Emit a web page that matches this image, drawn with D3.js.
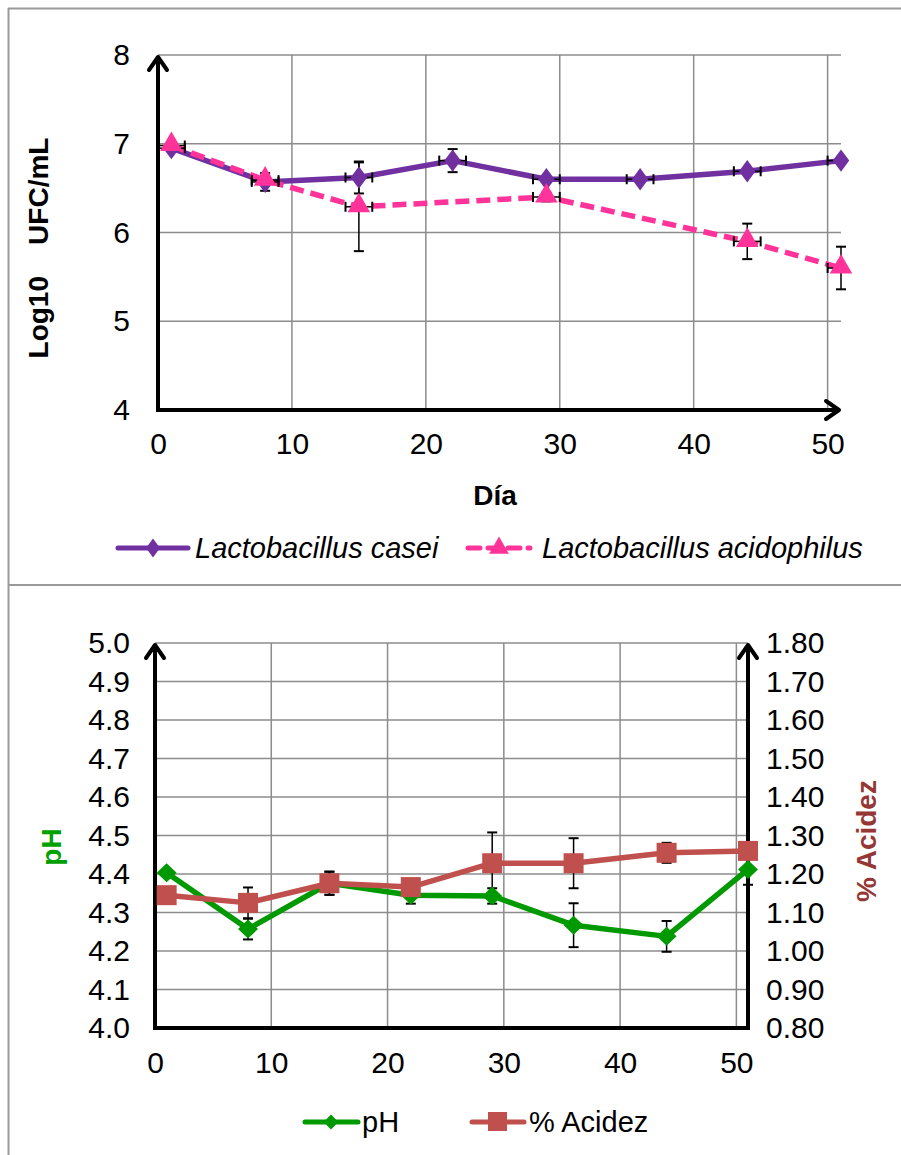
<!DOCTYPE html>
<html><head><meta charset="utf-8">
<script src="https://cdn.jsdelivr.net/npm/d3@7"></script>
<style>
html,body{margin:0;padding:0;background:#fff;}
svg{display:block;font-family:"Liberation Sans",Arial,sans-serif;}
</style></head>
<body>
<svg id="c" width="901" height="1155"></svg>
<script>
// ---------- data ----------
const daysCasei = [1, 8, 15, 22, 29, 36, 44, 51];
const casei = [6.95, 6.57, 6.62, 6.81, 6.60, 6.60, 6.69, 6.81];
const caseiErr = [0.03, 0.10, 0.18, 0.13, 0.03, 0.02, 0.03, 0.02];
const daysAcido = [1, 8, 15, 29, 44, 51];
const acido = [6.98, 6.59, 6.29, 6.40, 5.90, 5.60];
const acidoErr = [0.03, 0.05, 0.50, 0.05, 0.20, 0.24];
const dayErr = 1;
const topYTicks = [4, 5, 6, 7, 8];
const xTicks = [0, 10, 20, 30, 40, 50];

const daysPH = [1, 8, 15, 22, 29, 36, 44, 51];
const pH = [4.403, 4.257, 4.376, 4.345, 4.343, 4.267, 4.238, 4.412];
const pHErr = [0.00, 0.027, 0.03, 0.022, 0.02, 0.057, 0.04, 0.04];
const acidez = [1.145, 1.125, 1.176, 1.166, 1.228, 1.228, 1.255, 1.26];
const acidezErr = [0.00, 0.04, 0.03, 0.00, 0.08, 0.065, 0.026, 0.00];
const pHTicks = d3.range(0, 11).map(i => +(4 + i * 0.1).toFixed(1));
const acTicks = d3.range(0, 11).map(i => +(0.8 + i * 0.1).toFixed(2));

const svg = d3.select("#c");
const grid = "#8c8c8c";
const FS = 30;

// outer frame
svg.append("line").attr("x1", 8).attr("x2", 901).attr("y1", 8.5).attr("y2", 8.5).attr("stroke", "#999").attr("stroke-width", 2);
svg.append("line").attr("x1", 8.5).attr("x2", 8.5).attr("y1", 8).attr("y2", 1155).attr("stroke", "#999").attr("stroke-width", 2);
svg.append("line").attr("x1", 8).attr("x2", 901).attr("y1", 585).attr("y2", 585).attr("stroke", "#999").attr("stroke-width", 2);

function arrowUp(g, x, y) {
  g.append("path").attr("d", `M${x-9},${y+13} L${x},${y} L${x+9},${y+13}`)
    .attr("fill", "none").attr("stroke", "#000").attr("stroke-width", 4).attr("stroke-linecap", "round").attr("stroke-linejoin", "round");
}
function arrowRight(g, x, y) {
  g.append("path").attr("d", `M${x-13},${y-9} L${x},${y} L${x-13},${y+9}`)
    .attr("fill", "none").attr("stroke", "#000").attr("stroke-width", 4).attr("stroke-linecap", "round").attr("stroke-linejoin", "round");
}
function styleTicks(sel) {
  sel.select(".domain").remove();
  sel.attr("font-size", null).attr("font-family", null);
  sel.selectAll("text").style("font-size", FS + "px").attr("fill", "#000").style("font-family", "'Liberation Sans', Arial, sans-serif");
}
const diamond = d3.symbol().type(d3.symbolDiamond2);
const tri = d3.symbol().type(d3.symbolTriangle);

// ---------- TOP CHART ----------
{
  const x = d3.scaleLinear().domain([0, 51]).range([158, 841]);
  const y = d3.scaleLinear().domain([4, 8]).range([410, 55]);
  const g = svg.append("g");
  g.selectAll(".hg").data(topYTicks.filter(d => d > 4)).join("line")
    .attr("x1", x(0)).attr("x2", x(51)).attr("y1", d => y(d)).attr("y2", d => y(d))
    .attr("stroke", grid).attr("stroke-width", 1.5);
  g.selectAll(".vg").data(xTicks.filter(d => d > 0)).join("line")
    .attr("x1", d => x(d)).attr("x2", d => x(d)).attr("y1", y(8)).attr("y2", y(4))
    .attr("stroke", grid).attr("stroke-width", 1.5);
  const ax = d3.axisBottom(x).tickValues(xTicks).tickFormat(d3.format("d")).tickSize(0).tickPadding(23);
  styleTicks(g.append("g").attr("transform", `translate(0,${y(4)})`).call(ax));
  const ay = d3.axisLeft(y).tickValues(topYTicks).tickFormat(d3.format("d")).tickSize(0).tickPadding(28);
  styleTicks(g.append("g").attr("transform", `translate(${x(0)},0)`).call(ay));
  g.append("line").attr("x1", x(0)).attr("x2", x(0)).attr("y1", y(4) + 2).attr("y2", y(8) + 2).attr("stroke", "#000").attr("stroke-width", 4);
  g.append("line").attr("x1", x(0) - 2).attr("x2", x(51) - 2).attr("y1", y(4)).attr("y2", y(4)).attr("stroke", "#000").attr("stroke-width", 4);
  arrowUp(g, x(0), y(8) + 2);
  arrowRight(g, x(51) - 2, y(4));
  g.append("text").attr("transform", `translate(48,248) rotate(-90)`).attr("text-anchor", "middle")
    .style("font-size", "28px").attr("font-weight", "bold").style("white-space", "pre")
    .text("Log10    UFC/mL");
  g.append("text").attr("x", 495).attr("y", 505).attr("text-anchor", "middle").style("font-size", "28px").attr("font-weight", "bold").text("Día");

  const lc = d3.line().x((d, i) => x(daysCasei[i])).y(d => y(d));
  g.append("path").attr("d", lc(casei)).attr("fill", "none").attr("stroke", "#7030A0").attr("stroke-width", 5.5).attr("stroke-linejoin", "round");
  const la = d3.line().x((d, i) => x(daysAcido[i])).y(d => y(d));
  g.append("path").attr("d", la(acido)).attr("fill", "none").attr("stroke", "#FF3399").attr("stroke-width", 5.5).attr("stroke-dasharray", "14,7");

  function errs(days, vals, err) {
    days.forEach((dd, i) => {
      const cx = x(dd), cy = y(vals[i]);
      if (err[i] > 0) {
        g.append("line").attr("x1", cx).attr("x2", cx).attr("y1", y(vals[i] - err[i])).attr("y2", y(vals[i] + err[i])).attr("stroke", "#000").attr("stroke-width", 1.5);
        [vals[i] - err[i], vals[i] + err[i]].forEach(v => g.append("line").attr("x1", cx - 5).attr("x2", cx + 5).attr("y1", y(v)).attr("y2", y(v)).attr("stroke", "#000").attr("stroke-width", 2));
      }
      const x0 = Math.max(0, dd - dayErr), x1 = Math.min(51, dd + dayErr);
      g.append("line").attr("x1", x(x0)).attr("x2", x(x1)).attr("y1", cy).attr("y2", cy).attr("stroke", "#000").attr("stroke-width", 1.5);
      [dd - dayErr, dd + dayErr].filter(v => v >= 0 && v <= 51).forEach(v => g.append("line").attr("x1", x(v)).attr("x2", x(v)).attr("y1", cy - 5).attr("y2", cy + 5).attr("stroke", "#000").attr("stroke-width", 2));
    });
  }
  errs(daysCasei, casei, caseiErr);
  errs(daysAcido, acido, acidoErr);

  g.selectAll(".mc").data(casei).join("path").attr("d", diamond.size(240))
    .attr("transform", (d, i) => `translate(${x(daysCasei[i])},${y(d)}) scale(0.85,1.15)`).attr("fill", "#7030A0");
  g.selectAll(".ma").data(acido).join("path").attr("d", tri.size(220))
    .attr("transform", (d, i) => `translate(${x(daysAcido[i])},${y(d) - 1})`).attr("fill", "#FF3399");

  const ly = 548;
  g.append("line").attr("x1", 118).attr("x2", 188).attr("y1", ly).attr("y2", ly).attr("stroke", "#7030A0").attr("stroke-width", 5).attr("stroke-linecap", "round");
  g.append("path").attr("d", diamond.size(170)).attr("transform", `translate(153,${ly}) scale(0.85,1.15)`).attr("fill", "#7030A0");
  g.append("text").attr("x", 195).attr("y", ly + 10).style("font-size", "29px").attr("font-style", "italic").text("Lactobacillus casei");
  g.append("line").attr("x1", 468).attr("x2", 530).attr("y1", ly).attr("y2", ly).attr("stroke", "#FF3399").attr("stroke-width", 5).attr("stroke-dasharray", "12,8").attr("stroke-linecap", "round");
  g.append("path").attr("d", tri.size(170)).attr("transform", `translate(499,${ly})`).attr("fill", "#FF3399");
  g.append("text").attr("x", 542).attr("y", ly + 10).style("font-size", "29px").attr("font-style", "italic").text("Lactobacillus acidophilus");
}

// ---------- BOTTOM CHART ----------
{
  const x = d3.scaleLinear().domain([0, 51]).range([155, 748]);
  const yl = d3.scaleLinear().domain([4, 5]).range([1028, 643]);
  const yr = d3.scaleLinear().domain([0.8, 1.8]).range([1028, 643]);
  const g = svg.append("g");
  g.selectAll(".hg").data(pHTicks.filter(d => d > 4)).join("line")
    .attr("x1", x(0)).attr("x2", x(51)).attr("y1", d => yl(d)).attr("y2", d => yl(d))
    .attr("stroke", grid).attr("stroke-width", 1.5);
  g.selectAll(".vg").data(xTicks.filter(d => d > 0)).join("line")
    .attr("x1", d => x(d)).attr("x2", d => x(d)).attr("y1", yl(5)).attr("y2", yl(4))
    .attr("stroke", grid).attr("stroke-width", 1.5);

  const ax = d3.axisBottom(x).tickValues(xTicks).tickFormat(d3.format("d")).tickSize(0).tickPadding(24);
  styleTicks(g.append("g").attr("transform", `translate(0,${yl(4)})`).call(ax));
  const ayl = d3.axisLeft(yl).tickValues(pHTicks).tickFormat(d3.format(".1f")).tickSize(0).tickPadding(25);
  styleTicks(g.append("g").attr("transform", `translate(${x(0)},0)`).call(ayl));
  const ayr = d3.axisRight(yr).tickValues(acTicks).tickFormat(d3.format(".2f")).tickSize(0).tickPadding(18);
  styleTicks(g.append("g").attr("transform", `translate(${x(51)},0)`).call(ayr));

  g.append("line").attr("x1", x(0)).attr("x2", x(0)).attr("y1", yl(4) + 2).attr("y2", yl(5) + 2).attr("stroke", "#000").attr("stroke-width", 4);
  g.append("line").attr("x1", x(51)).attr("x2", x(51)).attr("y1", yl(4) + 2).attr("y2", yl(5) + 2).attr("stroke", "#000").attr("stroke-width", 4);
  g.append("line").attr("x1", x(0) - 2).attr("x2", x(51) + 2).attr("y1", yl(4)).attr("y2", yl(4)).attr("stroke", "#000").attr("stroke-width", 4);
  arrowUp(g, x(0), yl(5) + 2);
  arrowUp(g, x(51), yl(5) + 2);

  g.append("text").attr("transform", `translate(61,847) rotate(-90)`).attr("text-anchor", "middle")
    .style("font-size", "28px").attr("font-weight", "bold").attr("fill", "#00A000").text("pH");
  g.append("text").attr("transform", `translate(876,841) rotate(-90)`).attr("text-anchor", "middle")
    .style("font-size", "28px").attr("font-weight", "bold").attr("fill", "#953735").text("% Acidez");

  const lp = d3.line().x((d, i) => x(daysPH[i])).y(d => yl(d));
  g.append("path").attr("d", lp(pH)).attr("fill", "none").attr("stroke", "#009900").attr("stroke-width", 5.5).attr("stroke-linejoin", "round");
  const lac = d3.line().x((d, i) => x(daysPH[i])).y(d => yr(d));
  g.append("path").attr("d", lac(acidez)).attr("fill", "none").attr("stroke", "#C0504D").attr("stroke-width", 5.5).attr("stroke-linejoin", "round");

  function verr(vals, err, sc) {
    daysPH.forEach((dd, i) => {
      if (err[i] <= 0) return;
      const cx = x(dd);
      g.append("line").attr("x1", cx).attr("x2", cx).attr("y1", sc(vals[i] - err[i])).attr("y2", sc(vals[i] + err[i])).attr("stroke", "#000").attr("stroke-width", 1.5);
      [vals[i] - err[i], vals[i] + err[i]].forEach(v => g.append("line").attr("x1", cx - 5).attr("x2", cx + 5).attr("y1", sc(v)).attr("y2", sc(v)).attr("stroke", "#000").attr("stroke-width", 2));
    });
  }
  verr(pH, pHErr, yl);
  verr(acidez, acidezErr, yr);

  g.selectAll(".mp").data(pH).join("path").attr("d", diamond.size(230))
    .attr("transform", (d, i) => `translate(${x(daysPH[i])},${yl(d)}) scale(1.05,1)`).attr("fill", "#009900");
  g.selectAll(".mac").data(acidez).join("rect")
    .attr("x", (d, i) => x(daysPH[i]) - 10).attr("y", d => yr(d) - 10).attr("width", 20).attr("height", 20).attr("fill", "#C0504D");

  const ly = 1122;
  g.append("line").attr("x1", 305).attr("x2", 358).attr("y1", ly).attr("y2", ly).attr("stroke", "#009900").attr("stroke-width", 5).attr("stroke-linecap", "round");
  g.append("path").attr("d", diamond.size(140)).attr("transform", `translate(331,${ly})`).attr("fill", "#009900");
  g.append("text").attr("x", 362).attr("y", ly + 10).style("font-size", "29px").text("pH");
  g.append("line").attr("x1", 472).attr("x2", 524).attr("y1", ly).attr("y2", ly).attr("stroke", "#C0504D").attr("stroke-width", 5).attr("stroke-linecap", "round");
  g.append("rect").attr("x", 488).attr("y", ly - 10).attr("width", 19).attr("height", 19).attr("fill", "#C0504D");
  g.append("text").attr("x", 529).attr("y", ly + 10).style("font-size", "29px").text("% Acidez");
}
</script>
</body></html>
